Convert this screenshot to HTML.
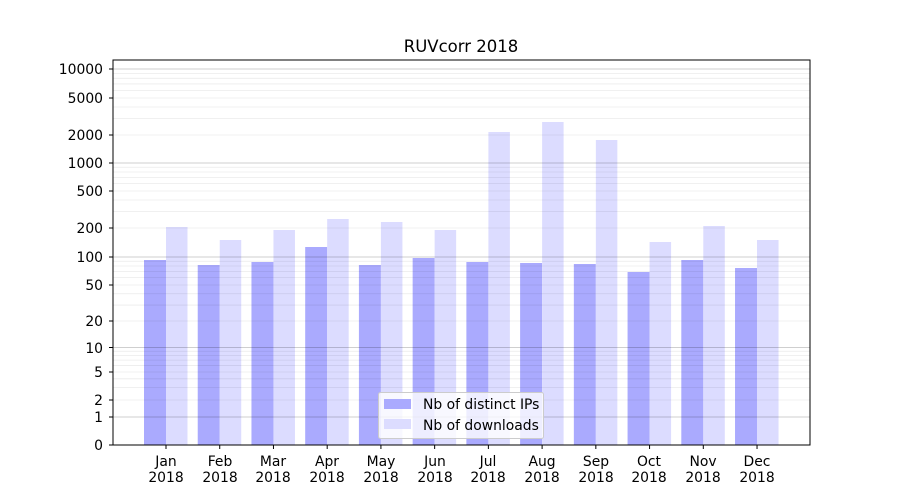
<!DOCTYPE html>
<html><head><meta charset="utf-8"><style>body{margin:0;background:#fff}svg{display:block;font-family:"DejaVu Sans","Liberation Sans",sans-serif}</style></head>
<body>
<svg id="s" width="900" height="500" xmlns="http://www.w3.org/2000/svg">
<rect width="900" height="500" fill="#fff"/>
<g id="bars"></g>
<g id="grid"></g>
<rect x="113" y="60" width="697" height="385" fill="none" stroke="#000" stroke-width="1"/>
<text x="461" y="52" font-size="16.5" text-anchor="middle">RUVcorr 2018</text>
<g font-size="13.9" text-anchor="end">
<text x="103" y="74">10000</text><text x="103" y="103">5000</text><text x="103" y="140">2000</text>
<text x="103" y="168">1000</text><text x="103" y="196">500</text><text x="103" y="233">200</text>
<text x="103" y="262">100</text><text x="103" y="290">50</text><text x="103" y="326">20</text>
<text x="103" y="353">10</text><text x="103" y="377">5</text><text x="103" y="405">2</text>
<text x="103" y="422">1</text><text x="103" y="450">0</text>
</g>
<g id="yt" stroke="#000"></g>
<g font-size="13.9" text-anchor="middle" id="xl">
<text x="166" y="466">Jan</text><text x="166" y="482">2018</text>
<text x="220" y="466">Feb</text><text x="220" y="482">2018</text>
<text x="273" y="466">Mar</text><text x="273" y="482">2018</text>
<text x="327" y="466">Apr</text><text x="327" y="482">2018</text>
<text x="381" y="466">May</text><text x="381" y="482">2018</text>
<text x="435" y="466">Jun</text><text x="435" y="482">2018</text>
<text x="488" y="466">Jul</text><text x="488" y="482">2018</text>
<text x="542" y="466">Aug</text><text x="542" y="482">2018</text>
<text x="596" y="466">Sep</text><text x="596" y="482">2018</text>
<text x="649" y="466">Oct</text><text x="649" y="482">2018</text>
<text x="703" y="466">Nov</text><text x="703" y="482">2018</text>
<text x="757" y="466">Dec</text><text x="757" y="482">2018</text>
</g>
<g>
<rect x="378.5" y="392.5" width="165" height="46" rx="2" fill="#fff" fill-opacity="0.8" stroke="#ccc"/>
<rect x="384" y="399" width="27" height="10" fill="#aaaafe"/>
<rect x="384" y="419" width="27" height="10" fill="#dcdcff"/>
<text x="423" y="409" font-size="13.9">Nb of distinct IPs</text>
<text x="423" y="430" font-size="13.9">Nb of downloads</text>
</g>
</svg>
<script>
var NS="http://www.w3.org/2000/svg";
function el(p,t,a){var e=document.createElementNS(NS,t);for(var k in a)e.setAttribute(k,a[k]);document.getElementById(p).appendChild(e);}
var A=[[1,417],[2,400],[5,372],[10,347.5],[20,321],[50,285],[100,257],[200,228],[500,191],[1000,163],[2000,135],[5000,98],[10000,69]];
function Y(v){if(v<=1)return 445-28*v;for(var i=0;i<A.length-1;i++){if(v<=A[i+1][0]){var a=A[i],b=A[i+1];var f=Math.log(v/a[0])/Math.log(b[0]/a[0]);return a[1]+f*(b[1]-a[1]);}}return 69;}
var dark=[260,265,262,247,265,258,262,263,264,272,260,268];
var light=[227,240,230,219,222,230,132,122,140,242,226,240];
for(var i=0;i<12;i++){var c=166+53.73*i;
el("bars","rect",{x:c-22,y:dark[i],width:22,height:445-dark[i],fill:"#aaaafe"});
el("bars","rect",{x:c,y:light[i],width:21.5,height:445-light[i],fill:"#dcdcff"});
el("yt","line",{x1:c,x2:c,y1:445,y2:449});}
[1,10,100,1000,10000].forEach(function(d){var y=Y(d);el("grid","line",{x1:113,x2:810,y1:y,y2:y,stroke:"#000","stroke-opacity":0.25,"stroke-width":0.8});
if(d<10000)for(var m=2;m<10;m++){var yy=Y(d*m);el("grid","line",{x1:113,x2:810,y1:yy,y2:yy,stroke:"#000","stroke-opacity":0.08,"stroke-width":0.8});}});
[0,1,2,5,10,20,50,100,200,500,1000,2000,5000,10000].forEach(function(v){var y=Y(v);el("yt","line",{x1:109,x2:113,y1:y,y2:y});});
</script>
</body></html>
